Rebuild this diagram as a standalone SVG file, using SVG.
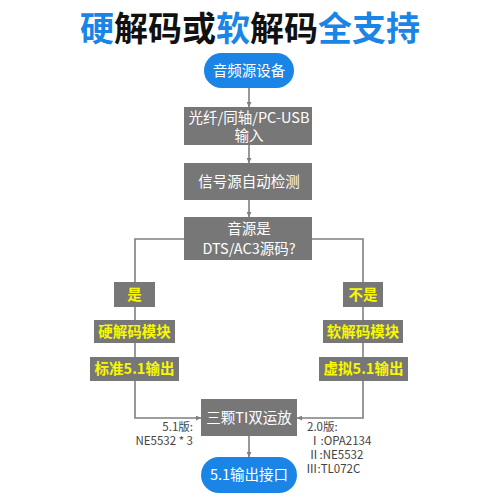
<svg xmlns="http://www.w3.org/2000/svg" width="500" height="500" viewBox="0 0 500 500">
<defs>
<style>
.t{font-family:"Noto Sans CJK SC","Noto Sans",sans-serif;}
.title{font-size:34px;font-weight:bold;text-anchor:middle;}
.blue{fill:#1a85e6;}
.gray{fill:#777777;}
.w{fill:#ffffff;font-size:14.5px;text-anchor:middle;}
.y{fill:#f7f700;font-size:14.5px;font-weight:bold;text-anchor:middle;}
.note{fill:#444444;font-size:11.5px;}
.ln{stroke:#7f7f7f;stroke-width:1.6;fill:none;}
</style>
<marker id="ah" viewBox="0 0 10 10" refX="10" refY="5" markerWidth="5" markerHeight="5" orient="auto" markerUnits="userSpaceOnUse">
<path d="M0,0 L10,5 L0,10 z" fill="#7f7f7f"/>
</marker>
</defs>
<rect width="500" height="500" fill="#ffffff"/>
<text class="t title" x="250" y="41"><tspan fill="#1a85e6">硬</tspan><tspan fill="#111111">解码或</tspan><tspan fill="#1a85e6">软</tspan><tspan fill="#111111">解码</tspan><tspan fill="#1a85e6">全支持</tspan></text>

<g id="connectors">
<line class="ln" x1="249" y1="88" x2="249" y2="107" marker-end="url(#ah)"/>
<line class="ln" x1="249" y1="145" x2="249" y2="163" marker-end="url(#ah)"/>
<line class="ln" x1="249" y1="200" x2="249" y2="217" marker-end="url(#ah)"/>
<polyline class="ln" points="184,239 135,239 135,282"/>
<polyline class="ln" points="312,239 363,239 363,282"/>
<line class="ln" x1="135" y1="307" x2="135" y2="320"/>
<line class="ln" x1="135" y1="343" x2="135" y2="357"/>
<line class="ln" x1="363" y1="307" x2="363" y2="320"/>
<line class="ln" x1="363" y1="343" x2="363" y2="357"/>
<polyline class="ln" points="135,381 135,418 201,418" marker-end="url(#ah)"/>
<polyline class="ln" points="363,381 363,418 297,418" marker-end="url(#ah)"/>
<line class="ln" x1="249" y1="436" x2="249" y2="457" marker-end="url(#ah)"/>
</g>

<g id="start">
<rect class="blue" x="204" y="53" width="90" height="35" rx="17.5"/>
<text class="t w" x="249" y="76">音频源设备</text>
</g>
<g id="input">
<rect class="gray" x="184" y="107" width="128" height="38"/>
<text class="t w" x="249" y="123">光纤/同轴/PC-USB</text>
<text class="t w" x="249" y="141">输入</text>
</g>
<g id="detect">
<rect class="gray" x="184" y="163" width="128" height="37"/>
<text class="t w" x="249" y="187">信号源自动检测</text>
</g>
<g id="decision">
<rect class="gray" x="184" y="217" width="128" height="43"/>
<text class="t w" x="249" y="234">音源是</text>
<text class="t w" x="249" y="254">DTS/AC3源码?</text>
</g>
<g id="yes">
<rect class="gray" x="114" y="282" width="41" height="25"/>
<text class="t y" x="134.5" y="300">是</text>
</g>
<g id="no">
<rect class="gray" x="343" y="282" width="40" height="25"/>
<text class="t y" x="363" y="300">不是</text>
</g>
<g id="hw">
<rect class="gray" x="94" y="320" width="81" height="23"/>
<text class="t y" x="134.5" y="337">硬解码模块</text>
</g>
<g id="sw">
<rect class="gray" x="323" y="320" width="80" height="23"/>
<text class="t y" x="363" y="337">软解码模块</text>
</g>
<g id="std">
<rect class="gray" x="90" y="357" width="89" height="24"/>
<text class="t y" x="134.5" y="374">标准5.1输出</text>
</g>
<g id="virt">
<rect class="gray" x="319" y="357" width="89" height="24"/>
<text class="t y" x="363.5" y="374">虚拟5.1输出</text>
</g>
<g id="opamp">
<rect class="gray" x="201" y="399" width="96" height="37"/>
<text class="t w" x="249" y="423">三颗TI双运放</text>
</g>
<g id="end">
<rect class="blue" x="201" y="457" width="96" height="36" rx="18"/>
<text class="t w" x="249" y="480">5.1输出接口</text>
</g>
<g id="notes">
<text class="t note" x="193" y="431" text-anchor="end">5.1版:</text>
<text class="t note" x="193" y="445" text-anchor="end">NE5532 * 3</text>
<text class="t note" x="307" y="431">2.0版:</text>
<text class="t note" x="309" y="445">Ⅰ:OPA2134</text>
<text class="t note" x="308" y="459">Ⅱ:NE5532</text>
<text class="t note" x="306" y="473">Ⅲ:TL072C</text>
</g>
</svg>
